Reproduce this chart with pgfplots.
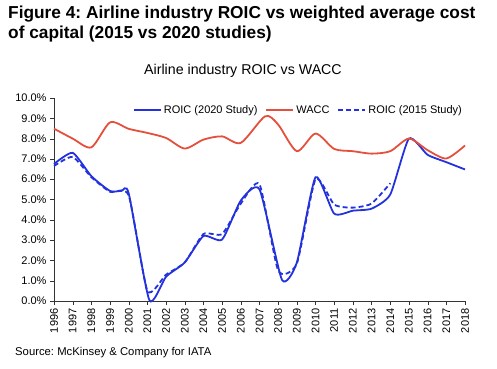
\documentclass[border=0pt]{standalone}
\usepackage{pgfplots}
\pgfplotsset{compat=1.18}
\usepackage{fontspec}
\setmainfont{Liberation Sans}
\frenchspacing
\definecolor{roicblue}{RGB}{35,50,220}
\definecolor{waccred}{RGB}{228,80,60}
\begin{document}
\begin{tikzpicture}[x=1pt,y=1pt]
\path[use as bounding box] (0,0) rectangle (497,368);
\node[anchor=base west,font=\fontsize{17.3}{20}\selectfont\bfseries,inner sep=0] at (8,350) {Figure 4: Airline industry ROIC vs weighted average cost};
\node[anchor=base west,font=\fontsize{17.3}{20}\selectfont\bfseries,inner sep=0] at (8,330) {of capital (2015 vs 2020 studies)};
\node[anchor=base,font=\fontsize{14.2}{16}\selectfont,inner sep=0] at (243,294) {Airline industry ROIC vs WACC};
\node[anchor=base west,font=\fontsize{11.3}{13}\selectfont,inner sep=0] at (15,13) {Source: McKinsey \& Company for IATA};
\begin{axis}[
  at={(54pt,67pt)}, anchor=origin,
  scale only axis, width=411pt, height=203pt,
  xmin=1996, xmax=2018, ymin=0, ymax=10,
  axis lines=left, axis line style={-, black!80},
  xtick={1996,...,2018}, ytick={0,1,...,10},
  tick style={black!80}, tick align=outside, major tick length=4pt,
  xticklabel style={rotate=90, anchor=east, font=\fontsize{11}{12}\selectfont},
  yticklabel style={font=\fontsize{11}{12}\selectfont},
  /pgf/number format/assume math mode=true,
  xticklabel={\pgfmathprintnumber[1000 sep={}]{\tick}},
  yticklabel={\pgfmathprintnumber[fixed,fixed zerofill,precision=1]{\tick}\%},
  legend columns=3,
  legend style={draw=none, fill=none, at={(1.005,0.985)}, anchor=north east,
    font=\fontsize{11}{12}\selectfont, /tikz/every even column/.append style={column sep=6pt}},
  legend image code/.code={\draw[#1] (0,0) -- (0.95cm,0);},
  clip=false,
]
\addplot[roicblue, line width=1.8pt, smooth, tension=0.35] coordinates {
(1996,6.75) (1997,7.3) (1998,6.15) (1999,5.42) (1999.6,5.42) (2000,5.3) (2001.1,0.05) (2002,1.2) (2003,1.9) (2004,3.2) (2005,3.03) (2006,4.95) (2007,5.5) (2008.2,1.05) (2009,1.9) (2010,6.1) (2011,4.3) (2012,4.45) (2013,4.55) (2014,5.25) (2015,8.0) (2016,7.2) (2017,6.84) (2018,6.48)};
\addlegendentry{ROIC (2020 Study)}
\addplot[waccred, line width=1.8pt, smooth, tension=0.45] coordinates {
(1996,8.49) (1997,8.0) (1998,7.57) (1999,8.8) (2000,8.48) (2001,8.28) (2002,8.03) (2003,7.51) (2004,7.95) (2005,8.11) (2006,7.79) (2007.3,9.1) (2008,8.69) (2009,7.38) (2010,8.25) (2011,7.49) (2012,7.38) (2013,7.26) (2014,7.38) (2015,8.0) (2016,7.43) (2017,7.02) (2018,7.66)};
\addlegendentry{WACC}
\addplot[roicblue, line width=1.8pt, dash pattern=on 5pt off 3pt, smooth, tension=0.35] coordinates {
(1996,6.65) (1997,7.1) (1998,6.1) (1999,5.38) (2000,5.2) (2001,0.5) (2002,1.3) (2003,1.9) (2004,3.3) (2005,3.3) (2006,4.8) (2007,5.75) (2008,1.5) (2009,1.85) (2010,6.0) (2011,4.75) (2012,4.6) (2013,4.8) (2014,5.8)};
\addlegendentry{ROIC (2015 Study)}
\end{axis}
\end{tikzpicture}
\end{document}
